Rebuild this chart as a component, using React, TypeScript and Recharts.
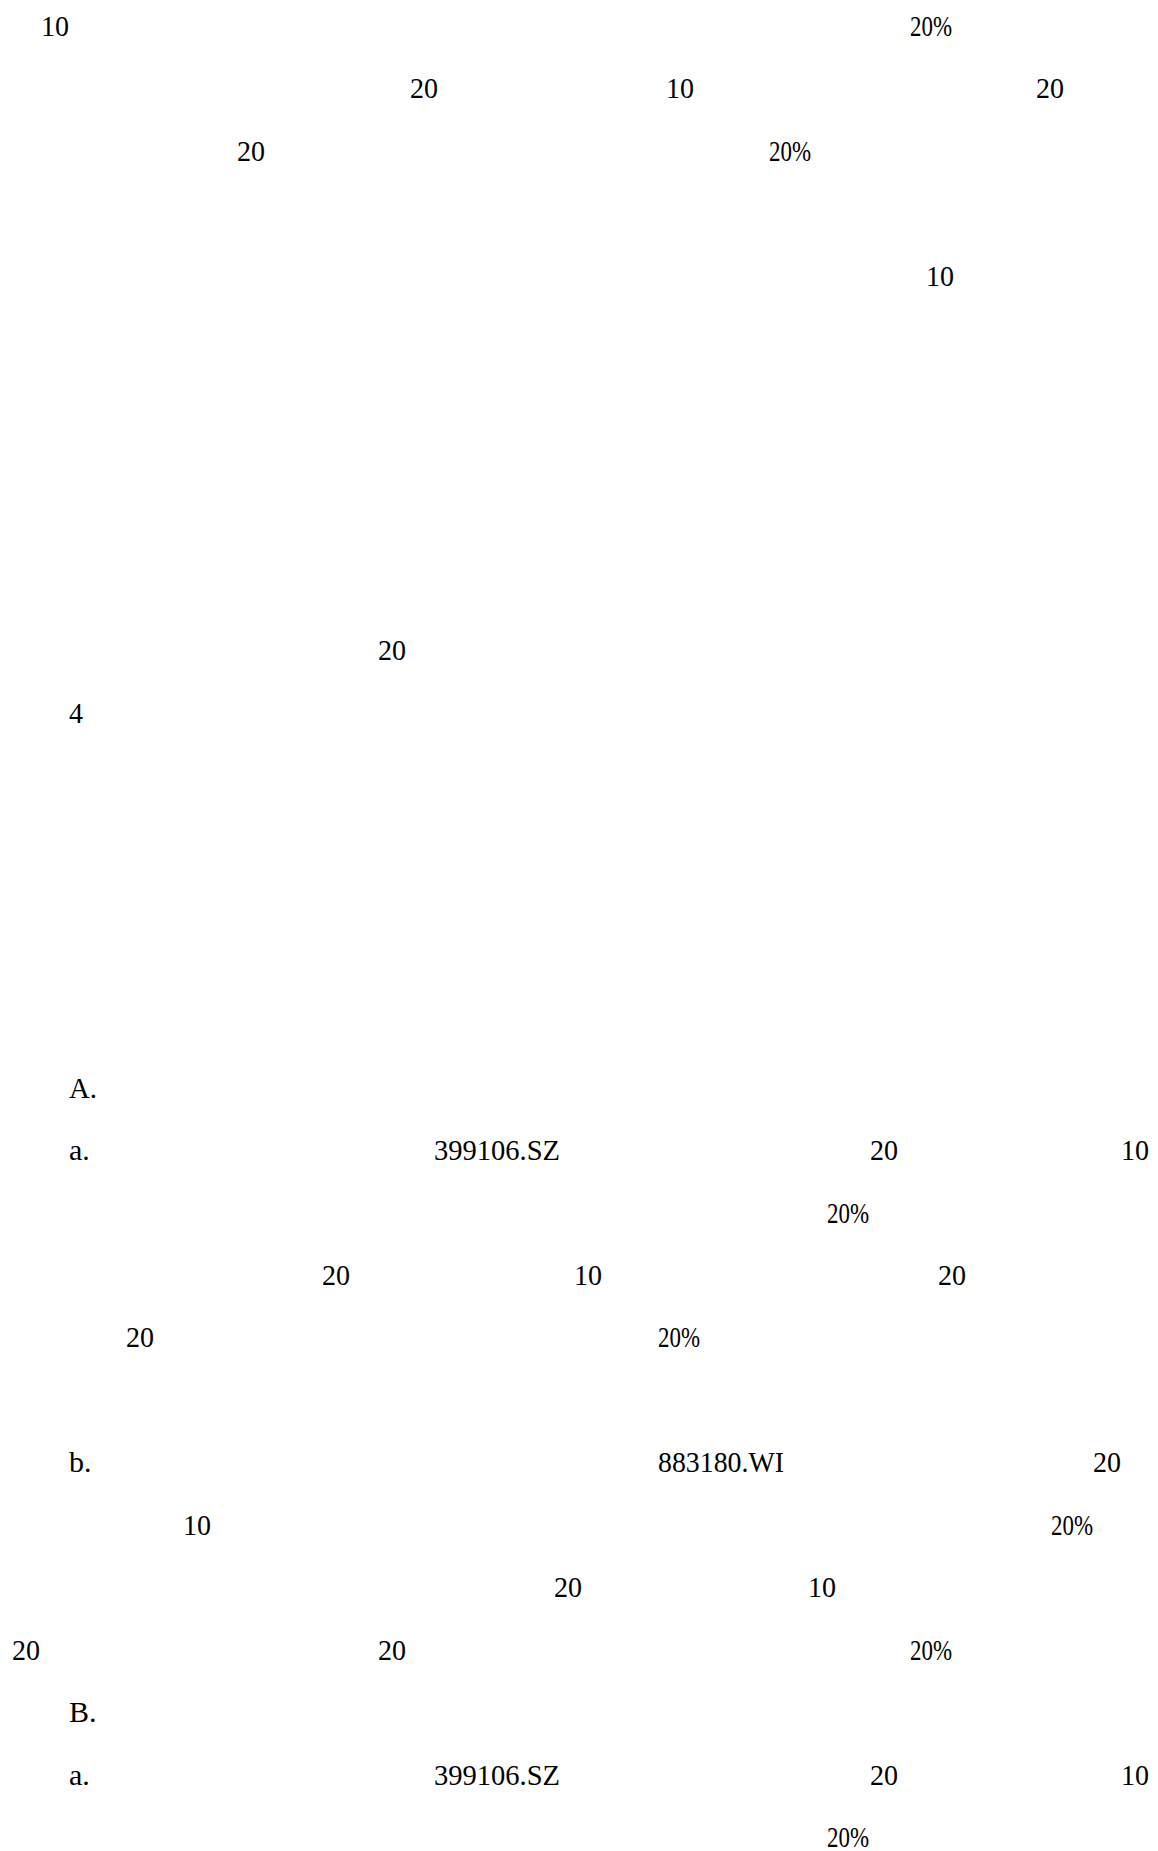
import React from "react";
import { ScatterChart, Scatter, XAxis, YAxis } from "recharts";

// Visible fragments of the page (the CJK glyphs are not rendered in the source)
const labels = [
  "10", "20%",
  "20", "10", "20",
  "20", "20%",
  "10",
  "20",
  "4",
  "A.",
  "a.", "399106.SZ", "20", "10",
  "20%",
  "20", "10", "20",
  "20", "20%",
  "b.", "883180.WI", "20",
  "10", "20%",
  "20", "10",
  "20", "20", "20%",
  "B.",
  "a.", "399106.SZ", "20", "10",
  "20%",
];

// line number on the page
const lines = [
  0, 0,
  1, 1, 1,
  2, 2,
  4,
  10,
  11,
  17,
  18, 18, 18, 18,
  19,
  20, 20, 20,
  21, 21,
  23, 23, 23,
  24, 24,
  25, 25,
  26, 26, 26,
  27,
  28, 28, 28, 28,
  29,
];

// horizontal start of each fragment, page units (0 - 1158)
const starts = [
  41, 910,
  410, 666, 1036,
  237, 769,
  926,
  378,
  69,
  69,
  69, 434, 870, 1121,
  827,
  322, 574, 938,
  126, 658,
  69, 658, 1093,
  183, 1051,
  554, 808,
  12, 378, 910,
  69,
  69, 434, 870, 1121,
  827,
];

const PAGE_W = 1158;
const PAGE_H = 1851;
const FONT_SIZE = 30;
const CELL = 14; // half-width character cell
const FONT = "'Liberation Serif', 'Times New Roman', serif";

const data = labels.map((label, i) => ({ label, x: starts[i], line: lines[i] }));

let ctx: CanvasRenderingContext2D | null = null;
const naturalWidth = (s: string) => {
  if (!ctx) {
    ctx = document.createElement("canvas").getContext("2d");
    if (ctx) ctx.font = `${FONT_SIZE}px ${FONT}`;
  }
  return ctx ? ctx.measureText(s).width : s.length * FONT_SIZE * 0.5;
};

const TextMark = (props: any) => {
  const { cx, cy, payload } = props;
  if (cx == null || cy == null) return null;
  const target = payload.label.length * CELL;
  const squeeze = naturalWidth(payload.label) > target;
  return (
    <text
      x={cx}
      y={cy}
      fontFamily={FONT}
      fontSize={FONT_SIZE}
      fill="#000"
      textLength={squeeze ? target : undefined}
      lengthAdjust={squeeze ? "spacingAndGlyphs" : undefined}
    >
      {payload.label}
    </text>
  );
};

export default function App() {
  return (
    <div style={{ position: "absolute", left: 0, top: 0, background: "#fff" }}>
      <ScatterChart
        width={PAGE_W}
        height={PAGE_H}
        margin={{ top: 36, right: 0, bottom: 4, left: 0 }}
      >
        <XAxis type="number" dataKey="x" domain={[0, PAGE_W]} hide />
        <YAxis type="number" dataKey="line" domain={[0, 29]} reversed hide />
        <Scatter data={data} shape={TextMark} isAnimationActive={false} />
      </ScatterChart>
    </div>
  );
}
